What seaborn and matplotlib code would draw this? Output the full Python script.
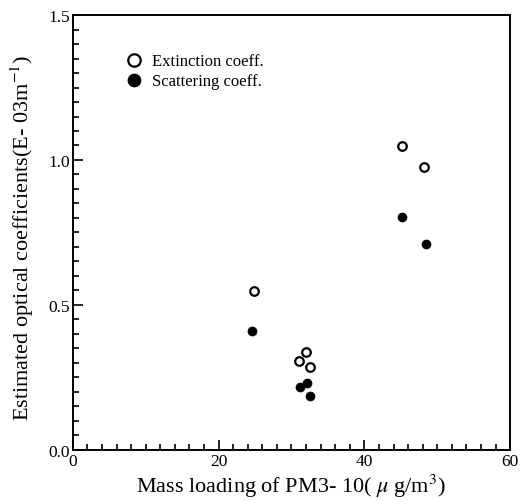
import numpy as np
import pandas as pd
import matplotlib
matplotlib.use("Agg")
import matplotlib.pyplot as plt
from matplotlib.ticker import MultipleLocator, FormatStrFormatter
import seaborn as sns

# mass loading of PM3-10 (ug/m3)
mass_loading = [24.8, 32.0, 31.1, 32.5, 45.2, 48.2]
mass_loading_sc = [24.6, 32.1, 31.2, 32.6, 45.2, 48.4]
# estimated coefficients (E-03 m^-1)
extinction = [0.547, 0.337, 0.308, 0.287, 1.048, 0.976]
scattering = [0.411, 0.232, 0.216, 0.185, 0.803, 0.710]

ext_df = pd.DataFrame({"x": mass_loading, "y": extinction})
sca_df = pd.DataFrame({"x": mass_loading_sc, "y": scattering})

sns.set_style("ticks")
plt.rcParams["font.family"] = ["Liberation Serif", "DejaVu Serif"]
plt.rcParams["mathtext.fontset"] = "stix"
plt.rcParams["text.color"] = "black"
plt.rcParams["axes.labelcolor"] = "black"
plt.rcParams["xtick.color"] = "black"
plt.rcParams["ytick.color"] = "black"

fig = plt.figure(figsize=(5.2, 5.02), dpi=100)
ax = fig.add_axes([0.140, 0.102, 0.841, 0.866])

sns.scatterplot(data=ext_df, x="x", y="y", ax=ax, marker="o", s=38,
                facecolor="white", edgecolor="black", linewidth=1.6,
                label="Extinction coeff.")
sns.scatterplot(data=sca_df, x="x", y="y", ax=ax, marker="o", s=42,
                color="black", edgecolor="black", linewidth=0.5,
                label="Scattering coeff.")

ax.set_xlim(0, 60)
ax.set_ylim(0, 1.5)
ax.xaxis.set_major_locator(MultipleLocator(20))
ax.xaxis.set_minor_locator(MultipleLocator(2))
ax.yaxis.set_major_locator(MultipleLocator(0.5))
ax.yaxis.set_minor_locator(MultipleLocator(0.05))
ax.yaxis.set_major_formatter(FormatStrFormatter("%.1f"))
ax.tick_params(which="both", direction="in", top=False, right=False,
               labelsize=12.5, width=1.2, pad=2)
ax.tick_params(which="major", length=7)
ax.tick_params(which="minor", length=4)
for sp in ax.spines.values():
    sp.set_linewidth(1.4)
    sp.set_color("black")

ax.set_xlabel("Mass loading of PM3- 10( $\\mu$ g/m$^3$)", fontsize=16)
ax.set_ylabel("Estimated optical coefficients(E- 03m$^{-1}$)", fontsize=16)
ax.xaxis.set_label_coords(0.5, -0.05)
ax.yaxis.set_label_coords(-0.084, 0.49)

leg = ax.legend(loc="upper left", bbox_to_anchor=(0.083, 0.948), frameon=False,
                fontsize=12, handletextpad=0.5, labelspacing=0.25,
                markerscale=1.45, handlelength=1.2)

fig.savefig("out.png", dpi=100)
